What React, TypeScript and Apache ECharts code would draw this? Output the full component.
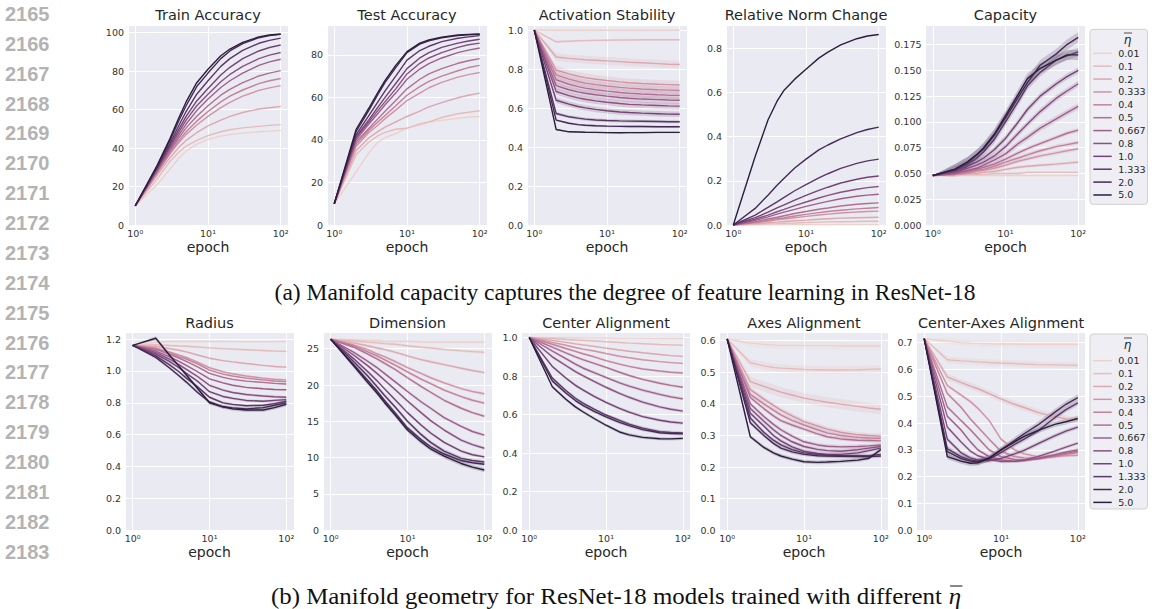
import React, { useEffect, useRef } from "react";
import * as echarts from "echarts";

// Sampled epochs (log-spaced) shared by every panel
const epochs = [1, 2, 3, 4, 5, 7, 10, 15, 20, 30, 50, 70, 100];

// η̄ levels, lightest to darkest
const etaLabels = ["0.01", "0.1", "0.2", "0.333", "0.4", "0.5", "0.667", "0.8", "1.0", "1.333", "2.0", "5.0"];

// Rows follow etaLabels order
const trainAccuracy = [
  [10, 21, 29, 35, 38.5, 42, 44.5, 46.2, 47, 47.8, 48.5, 48.8, 49.2],
  [10, 24, 33, 38, 41, 44, 46.5, 48.5, 49.5, 50.5, 51.3, 51.8, 52.2],
  [10, 26, 35, 40.5, 44, 48, 51.5, 54.5, 56.5, 58.5, 60.3, 61, 61.7],
  [10, 27, 37, 43, 47, 52, 56.5, 61, 63.8, 67, 70, 71.3, 72.5],
  [10, 27.5, 37.5, 44, 48.5, 54, 59, 64, 67, 70.2, 73.5, 75, 76.2],
  [10, 28, 38.5, 45.5, 50.5, 56.5, 62, 67.5, 70.5, 74, 77.5, 79, 80.3],
  [10, 28.5, 39.5, 47, 52.5, 59.5, 65.5, 71.5, 75, 79, 83, 84.8, 86.2],
  [10, 29, 40.5, 48.5, 54.5, 62, 68, 74.5, 78.3, 82.5, 86.5, 88.3, 89.7],
  [10, 29.5, 41.5, 50, 56.5, 64.5, 71, 78, 82, 86.5, 90.5, 92.3, 93.6],
  [10, 30, 42.5, 52, 59, 68, 75, 82.5, 86.5, 90.8, 94.5, 96, 97.2],
  [10, 30.5, 44, 54.5, 62, 72, 79, 86.5, 90.5, 94.3, 97.4, 98.5, 99.1],
  [10, 31, 45, 56, 64, 74, 81, 88, 91.5, 95, 97.8, 98.8, 99.3],
];

const testAccuracy = [
  [10, 25, 34, 39, 41, 43, 45.5, 47, 48.3, 49.2, 50.2, 50.7, 51],
  [10, 33, 39, 42, 43.5, 45, 45.5, 47.5, 48.5, 50.5, 52.3, 53, 53.7],
  [10, 35, 41, 44, 46, 48.5, 51, 53.5, 55.5, 57.5, 59.8, 61, 62],
  [10, 37, 43.5, 47, 50, 54, 58.5, 62, 64.5, 67, 69.5, 70.7, 71.7],
  [10, 38, 44.5, 48.5, 51.5, 56, 61, 65, 67.5, 70, 72.5, 74, 75],
  [10, 39, 45.5, 50, 53.5, 58.5, 64, 68.5, 71, 73.5, 76, 77.2, 78.2],
  [10, 40, 47.5, 52.5, 56.5, 62, 68.5, 73.3, 75.8, 78.5, 81, 82.2, 83.2],
  [10, 41, 48.5, 54, 58, 64, 71, 76, 78.5, 81, 83.5, 84.7, 85.5],
  [10, 41.5, 49.5, 55.5, 60, 66.5, 73.5, 78.5, 81, 83.5, 85.5, 86.5, 87.3],
  [10, 42.5, 51.5, 58, 63, 70, 77.5, 82, 84, 86.2, 87.8, 88.4, 89],
  [10, 44, 54, 61.5, 67, 74, 81, 85, 86.6, 88, 89, 89.4, 89.6],
  [10, 45, 55, 62.5, 68, 75, 81.5, 85.5, 87, 88.3, 89.3, 89.6, 89.8],
];

const activationStability = [
  [1, 0.999, 0.999, 0.999, 0.999, 0.999, 0.999, 0.999, 0.999, 0.999, 0.999, 0.999, 0.999],
  [1, 0.94, 0.943, 0.945, 0.946, 0.947, 0.948, 0.949, 0.949, 0.95, 0.95, 0.95, 0.95],
  [1, 0.862, 0.855, 0.851, 0.848, 0.845, 0.842, 0.838, 0.835, 0.832, 0.828, 0.825, 0.823],
  [1, 0.795, 0.775, 0.763, 0.756, 0.748, 0.741, 0.734, 0.73, 0.726, 0.722, 0.72, 0.718],
  [1, 0.77, 0.748, 0.736, 0.728, 0.72, 0.713, 0.706, 0.702, 0.698, 0.694, 0.692, 0.69],
  [1, 0.745, 0.722, 0.71, 0.702, 0.694, 0.687, 0.68, 0.676, 0.672, 0.668, 0.666, 0.665],
  [1, 0.715, 0.694, 0.683, 0.676, 0.668, 0.661, 0.654, 0.65, 0.646, 0.643, 0.641, 0.64],
  [1, 0.685, 0.664, 0.652, 0.645, 0.637, 0.63, 0.623, 0.619, 0.616, 0.613, 0.611, 0.61],
  [1, 0.64, 0.62, 0.608, 0.601, 0.593, 0.586, 0.58, 0.577, 0.574, 0.571, 0.569, 0.568],
  [1, 0.572, 0.555, 0.548, 0.543, 0.539, 0.536, 0.534, 0.533, 0.532, 0.531, 0.53, 0.53],
  [1, 0.538, 0.522, 0.515, 0.512, 0.509, 0.507, 0.506, 0.505, 0.505, 0.504, 0.504, 0.504],
  [1, 0.49, 0.478, 0.477, 0.476, 0.475, 0.474, 0.473, 0.474, 0.474, 0.475, 0.475, 0.475],
];

const relativeNormChange = [
  [0, 0.0003, 0.0005, 0.0007, 0.0008, 0.001, 0.0012, 0.0013, 0.0014, 0.0016, 0.0017, 0.0018, 0.0018],
  [0, 0.003, 0.005, 0.006, 0.008, 0.009, 0.011, 0.013, 0.014, 0.015, 0.016, 0.017, 0.017],
  [0, 0.006, 0.01, 0.013, 0.016, 0.019, 0.022, 0.026, 0.028, 0.031, 0.033, 0.034, 0.035],
  [0, 0.01, 0.017, 0.023, 0.027, 0.033, 0.039, 0.045, 0.049, 0.054, 0.059, 0.061, 0.063],
  [0, 0.012, 0.021, 0.028, 0.033, 0.041, 0.048, 0.056, 0.061, 0.067, 0.073, 0.076, 0.079],
  [0, 0.015, 0.027, 0.035, 0.042, 0.052, 0.061, 0.071, 0.077, 0.086, 0.094, 0.097, 0.1],
  [0, 0.021, 0.037, 0.049, 0.058, 0.071, 0.084, 0.098, 0.107, 0.119, 0.13, 0.135, 0.139],
  [0, 0.026, 0.045, 0.06, 0.071, 0.088, 0.104, 0.122, 0.134, 0.148, 0.162, 0.169, 0.174],
  [0, 0.033, 0.058, 0.077, 0.091, 0.113, 0.134, 0.157, 0.171, 0.19, 0.207, 0.216, 0.222],
  [0, 0.045, 0.08, 0.105, 0.125, 0.155, 0.183, 0.213, 0.232, 0.256, 0.279, 0.29, 0.298],
  [0, 0.075, 0.135, 0.18, 0.212, 0.258, 0.298, 0.34, 0.362, 0.39, 0.418, 0.432, 0.443],
  [0, 0.31, 0.475, 0.56, 0.61, 0.66, 0.705, 0.755, 0.782, 0.815, 0.843, 0.855, 0.862],
];

const capacity = [
  [0.048, 0.048, 0.048, 0.048, 0.048, 0.048, 0.048, 0.048, 0.048, 0.048, 0.048, 0.048, 0.048],
  [0.048, 0.048, 0.049, 0.049, 0.049, 0.05, 0.05, 0.05, 0.051, 0.051, 0.051, 0.051, 0.051],
  [0.048, 0.049, 0.05, 0.05, 0.051, 0.052, 0.054, 0.056, 0.057, 0.058, 0.059, 0.06, 0.061],
  [0.048, 0.049, 0.05, 0.052, 0.053, 0.055, 0.058, 0.062, 0.064, 0.067, 0.07, 0.072, 0.074],
  [0.048, 0.049, 0.051, 0.053, 0.054, 0.057, 0.061, 0.065, 0.068, 0.072, 0.076, 0.078, 0.08],
  [0.048, 0.05, 0.052, 0.054, 0.056, 0.059, 0.064, 0.07, 0.074, 0.079, 0.085, 0.089, 0.092],
  [0.048, 0.05, 0.053, 0.055, 0.058, 0.063, 0.069, 0.079, 0.085, 0.094, 0.103, 0.109, 0.115],
  [0.048, 0.051, 0.055, 0.058, 0.061, 0.067, 0.076, 0.089, 0.098, 0.11, 0.123, 0.13, 0.137],
  [0.048, 0.052, 0.057, 0.061, 0.065, 0.073, 0.084, 0.1, 0.112, 0.125, 0.137, 0.144, 0.15],
  [0.048, 0.053, 0.059, 0.065, 0.071, 0.083, 0.1, 0.12, 0.135, 0.148, 0.16, 0.164, 0.168],
  [0.048, 0.054, 0.061, 0.068, 0.074, 0.087, 0.104, 0.124, 0.138, 0.155, 0.166, 0.175, 0.182],
  [0.048, 0.054, 0.061, 0.068, 0.075, 0.088, 0.106, 0.127, 0.142, 0.152, 0.16, 0.165, 0.165],
];

const radius = [
  [1.16, 1.18, 1.185, 1.185, 1.185, 1.185, 1.185, 1.185, 1.184, 1.183, 1.183, 1.184, 1.185],
  [1.16, 1.165, 1.16, 1.157, 1.155, 1.15, 1.145, 1.14, 1.137, 1.133, 1.128, 1.125, 1.123],
  [1.16, 1.155, 1.14, 1.13, 1.12, 1.1, 1.08, 1.065, 1.057, 1.047, 1.035, 1.028, 1.024],
  [1.16, 1.145, 1.12, 1.1, 1.085, 1.055, 1.02, 0.995, 0.982, 0.968, 0.955, 0.948, 0.944],
  [1.16, 1.14, 1.115, 1.09, 1.075, 1.045, 1.005, 0.98, 0.968, 0.955, 0.944, 0.937, 0.933],
  [1.16, 1.135, 1.105, 1.08, 1.06, 1.025, 0.985, 0.96, 0.947, 0.936, 0.928, 0.922, 0.918],
  [1.16, 1.125, 1.09, 1.06, 1.035, 0.995, 0.95, 0.925, 0.91, 0.897, 0.888, 0.884, 0.882],
  [1.16, 1.115, 1.075, 1.04, 1.01, 0.965, 0.91, 0.88, 0.865, 0.852, 0.843, 0.838, 0.835],
  [1.16, 1.105, 1.06, 1.02, 0.985, 0.935, 0.87, 0.84, 0.828, 0.815, 0.81, 0.815, 0.82],
  [1.16, 1.095, 1.04, 0.995, 0.955, 0.9, 0.835, 0.8, 0.79, 0.782, 0.785, 0.795, 0.81],
  [1.16, 1.085, 1.02, 0.97, 0.93, 0.865, 0.805, 0.775, 0.768, 0.762, 0.77, 0.785, 0.8],
  [1.16, 1.205, 1.1, 1.03, 0.975, 0.89, 0.8, 0.775, 0.762, 0.755, 0.755, 0.77, 0.79],
];

const dimension = [
  [26.3, 26.2, 26.1, 26.1, 26.0, 26.0, 26.0, 25.9, 25.9, 25.9, 25.9, 25.9, 25.9],
  [26.3, 26.1, 25.9, 25.8, 25.7, 25.6, 25.4, 25.2, 25.1, 24.9, 24.7, 24.6, 24.5],
  [26.3, 25.8, 25.4, 25.1, 24.9, 24.5, 24.0, 23.5, 23.2, 22.8, 22.3, 22.0, 21.7],
  [26.3, 25.5, 24.9, 24.3, 23.9, 23.2, 22.4, 21.6, 21.0, 20.3, 19.5, 19.1, 18.8],
  [26.3, 25.4, 24.6, 24.0, 23.5, 22.7, 21.8, 20.8, 20.2, 19.3, 18.4, 17.9, 17.5],
  [26.3, 25.2, 24.3, 23.6, 23.0, 22.1, 21.0, 19.8, 19.0, 17.9, 16.8, 16.2, 15.7],
  [26.3, 24.5, 23.3, 22.4, 21.6, 20.4, 19.1, 17.7, 16.8, 15.5, 14.3, 13.6, 13.1],
  [26.3, 24.1, 22.7, 21.6, 20.7, 19.3, 17.8, 16.2, 15.1, 13.8, 12.4, 11.8, 11.3],
  [26.3, 23.6, 21.9, 20.6, 19.5, 17.9, 16.2, 14.5, 13.4, 12.1, 10.9, 10.4, 10.1],
  [26.3, 23.2, 21.3, 19.8, 18.6, 16.9, 15.0, 13.2, 12.1, 10.9, 9.9, 9.6, 9.4],
  [26.3, 22.8, 20.7, 19.2, 17.9, 16.1, 14.1, 12.5, 11.5, 10.5, 9.6, 9.3, 9.1],
  [26.3, 22.6, 20.4, 18.9, 17.6, 15.8, 13.8, 12.2, 11.2, 10.2, 9.2, 8.7, 8.3],
];

const centerAlignment = [
  [1, 0.999, 0.999, 0.999, 0.998, 0.998, 0.998, 0.997, 0.997, 0.997, 0.996, 0.996, 0.996],
  [1, 0.995, 0.99, 0.987, 0.985, 0.982, 0.978, 0.974, 0.971, 0.968, 0.964, 0.962, 0.96],
  [1, 0.985, 0.975, 0.967, 0.962, 0.954, 0.945, 0.935, 0.929, 0.921, 0.912, 0.906, 0.902],
  [1, 0.975, 0.96, 0.948, 0.94, 0.93, 0.917, 0.903, 0.895, 0.885, 0.875, 0.87, 0.866],
  [1, 0.965, 0.943, 0.928, 0.916, 0.9, 0.88, 0.862, 0.85, 0.837, 0.826, 0.82, 0.816],
  [1, 0.95, 0.92, 0.9, 0.885, 0.866, 0.845, 0.82, 0.803, 0.783, 0.763, 0.752, 0.742],
  [1, 0.93, 0.89, 0.862, 0.842, 0.818, 0.793, 0.765, 0.748, 0.727, 0.705, 0.692, 0.682],
  [1, 0.9, 0.855, 0.823, 0.802, 0.772, 0.742, 0.71, 0.69, 0.665, 0.64, 0.628, 0.618],
  [1, 0.85, 0.79, 0.752, 0.728, 0.695, 0.664, 0.632, 0.613, 0.59, 0.571, 0.562, 0.556],
  [1, 0.79, 0.725, 0.685, 0.66, 0.628, 0.598, 0.57, 0.551, 0.53, 0.512, 0.508, 0.505],
  [1, 0.775, 0.712, 0.673, 0.648, 0.617, 0.588, 0.56, 0.543, 0.522, 0.506, 0.502, 0.5],
  [1, 0.745, 0.68, 0.64, 0.615, 0.58, 0.545, 0.51, 0.495, 0.482, 0.475, 0.474, 0.477],
];

const axesAlignment = [
  [0.605, 0.592, 0.588, 0.586, 0.585, 0.585, 0.584, 0.584, 0.584, 0.583, 0.583, 0.583, 0.583],
  [0.605, 0.53, 0.52, 0.515, 0.513, 0.511, 0.509, 0.508, 0.507, 0.507, 0.508, 0.509, 0.51],
  [0.605, 0.47, 0.455, 0.445, 0.437, 0.428, 0.418, 0.41, 0.405, 0.399, 0.392, 0.387, 0.383],
  [0.605, 0.445, 0.415, 0.395, 0.38, 0.362, 0.344, 0.33, 0.32, 0.31, 0.302, 0.3, 0.298],
  [0.605, 0.43, 0.4, 0.38, 0.365, 0.348, 0.333, 0.318, 0.308, 0.3, 0.294, 0.292, 0.291],
  [0.605, 0.42, 0.385, 0.362, 0.347, 0.333, 0.32, 0.305, 0.296, 0.289, 0.285, 0.284, 0.283],
  [0.605, 0.4, 0.36, 0.335, 0.318, 0.298, 0.28, 0.27, 0.266, 0.264, 0.265, 0.267, 0.27],
  [0.605, 0.385, 0.345, 0.318, 0.3, 0.28, 0.265, 0.256, 0.252, 0.25, 0.255, 0.26, 0.265],
  [0.605, 0.37, 0.33, 0.3, 0.283, 0.264, 0.25, 0.243, 0.24, 0.24, 0.245, 0.252, 0.26],
  [0.605, 0.355, 0.31, 0.285, 0.27, 0.255, 0.245, 0.24, 0.238, 0.236, 0.236, 0.236, 0.24],
  [0.605, 0.34, 0.3, 0.275, 0.26, 0.248, 0.24, 0.236, 0.235, 0.234, 0.233, 0.233, 0.235],
  [0.605, 0.296, 0.262, 0.245, 0.235, 0.225, 0.217, 0.215, 0.216, 0.218, 0.222, 0.228, 0.255],
];

const centerAxesAlignment = [
  [0.715, 0.706, 0.7, 0.698, 0.697, 0.696, 0.695, 0.695, 0.694, 0.694, 0.694, 0.694, 0.694],
  [0.715, 0.636, 0.632, 0.63, 0.628, 0.626, 0.624, 0.622, 0.62, 0.618, 0.617, 0.616, 0.615],
  [0.715, 0.572, 0.552, 0.538, 0.528, 0.51, 0.49, 0.47, 0.458, 0.44, 0.424, 0.416, 0.41],
  [0.715, 0.54, 0.505, 0.48, 0.455, 0.41, 0.34, 0.3, 0.285, 0.275, 0.275, 0.278, 0.28],
  [0.715, 0.51, 0.46, 0.415, 0.385, 0.34, 0.295, 0.275, 0.27, 0.268, 0.275, 0.283, 0.29],
  [0.715, 0.46, 0.41, 0.375, 0.345, 0.3, 0.275, 0.264, 0.262, 0.266, 0.278, 0.287, 0.295],
  [0.715, 0.425, 0.375, 0.33, 0.3, 0.275, 0.262, 0.258, 0.26, 0.268, 0.282, 0.292, 0.3],
  [0.715, 0.385, 0.33, 0.295, 0.278, 0.265, 0.256, 0.257, 0.262, 0.275, 0.295, 0.31, 0.325],
  [0.715, 0.34, 0.29, 0.27, 0.262, 0.26, 0.268, 0.285, 0.298, 0.322, 0.352, 0.37, 0.385],
  [0.715, 0.305, 0.275, 0.262, 0.258, 0.265, 0.29, 0.32, 0.34, 0.37, 0.42, 0.45, 0.475],
  [0.715, 0.293, 0.268, 0.258, 0.256, 0.27, 0.3, 0.335, 0.36, 0.392, 0.44, 0.47, 0.495],
  [0.715, 0.275, 0.258, 0.25, 0.252, 0.268, 0.3, 0.33, 0.35, 0.372, 0.395, 0.405, 0.417],
];

// Half-widths of the shaded confidence bands, one per η̄ level
const activationBand = [0.002, 0.006, 0.02, 0.022, 0.02, 0.02, 0.018, 0.016, 0.014, 0.008, 0.005, 0.004];
const capacityBand = [0.001, 0.001, 0.0015, 0.002, 0.002, 0.002, 0.003, 0.003, 0.003, 0.004, 0.005, 0.005];
const radiusBand = [0.006, 0.006, 0.006, 0.006, 0.006, 0.006, 0.006, 0.008, 0.008, 0.008, 0.01, 0.012];
const dimensionBand = [0.2, 0.2, 0.2, 0.2, 0.2, 0.2, 0.2, 0.2, 0.2, 0.25, 0.25, 0.3];
const centerBand = [0.002, 0.003, 0.004, 0.005, 0.006, 0.007, 0.008, 0.008, 0.008, 0.008, 0.008, 0.008];
const axesBand = [0.012, 0.012, 0.016, 0.008, 0.007, 0.006, 0.006, 0.006, 0.006, 0.006, 0.006, 0.006];
const centerAxesBand = [0.012, 0.012, 0.012, 0.006, 0.006, 0.006, 0.006, 0.006, 0.008, 0.01, 0.012, 0.01];

const lineNumbers = ["2165", "2166", "2167", "2168", "2169", "2170", "2171", "2172", "2173", "2174", "2175", "2176", "2177", "2178", "2179", "2180", "2181", "2182", "2183"];

const captionA = "(a) Manifold capacity captures the degree of feature learning in ResNet-18";
const captionB = "(b) Manifold geometry for ResNet-18 models trained with different ";

// seaborn-style cubehelix (start 0, rot .4, hue .8), light → dark
function cubehelix(x: number): string {
  const a = (0.8 * x * (1 - x)) / 2;
  const phi = 2 * Math.PI * (0.4 * x);
  const c = Math.cos(phi);
  const s = Math.sin(phi);
  const ch = (v: number) => Math.round(Math.min(1, Math.max(0, v)) * 255);
  const r = ch(x + a * (-0.14861 * c + 1.78277 * s));
  const g = ch(x + a * (-0.29227 * c - 0.90649 * s));
  const b = ch(x + a * (1.97294 * c));
  return `rgb(${r},${g},${b})`;
}
const palette = etaLabels.map((_, i) => cubehelix(0.85 - (0.7 * i) / 11));

const FONT = "DejaVu Sans";
const TEXT = "#262626";
const SUP = ["⁰", "¹", "²"];
const CAPTION_FONT = `23.5px "Liberation Serif"`;

type Panel = {
  title: string;
  data: number[][];
  band: number[] | null;
  yMax: number;
  interval: number;
  dec: number;
  left: number;
  top: number;
  width: number;
  height: number;
};

const TOP_LEFTS = [128, 327, 527, 726, 925.5];
const BOT_LEFTS = [125, 323, 521.5, 719.5, 916.5];

const panels: Panel[] = [
  { title: "Train Accuracy", data: trainAccuracy, band: null, yMax: 104, interval: 20, dec: 0, left: TOP_LEFTS[0], top: 25, width: 160, height: 200 },
  { title: "Test Accuracy", data: testAccuracy, band: null, yMax: 94, interval: 20, dec: 0, left: TOP_LEFTS[1], top: 25, width: 160, height: 200 },
  { title: "Activation Stability", data: activationStability, band: activationBand, yMax: 1.026, interval: 0.2, dec: 1, left: TOP_LEFTS[2], top: 25, width: 160, height: 200 },
  { title: "Relative Norm Change", data: relativeNormChange, band: null, yMax: 0.905, interval: 0.2, dec: 1, left: TOP_LEFTS[3], top: 25, width: 160, height: 200 },
  { title: "Capacity", data: capacity, band: capacityBand, yMax: 0.194, interval: 0.025, dec: 3, left: TOP_LEFTS[4], top: 25, width: 160, height: 200 },
  { title: "Radius", data: radius, band: radiusBand, yMax: 1.24, interval: 0.2, dec: 1, left: BOT_LEFTS[0], top: 332.7, width: 169, height: 197.6 },
  { title: "Dimension", data: dimension, band: dimensionBand, yMax: 27.2, interval: 5, dec: 0, left: BOT_LEFTS[1], top: 332.7, width: 169, height: 197.6 },
  { title: "Center Alignment", data: centerAlignment, band: centerBand, yMax: 1.025, interval: 0.2, dec: 1, left: BOT_LEFTS[2], top: 332.7, width: 169, height: 197.6 },
  { title: "Axes Alignment", data: axesAlignment, band: axesBand, yMax: 0.625, interval: 0.1, dec: 1, left: BOT_LEFTS[3], top: 332.7, width: 169, height: 197.6 },
  { title: "Center-Axes Alignment", data: centerAxesAlignment, band: centerAxesBand, yMax: 0.737, interval: 0.1, dec: 1, left: BOT_LEFTS[4], top: 332.7, width: 169, height: 197.6 },
];

function measure(text: string, font: string): number {
  const ctx = document.createElement("canvas").getContext("2d");
  if (!ctx) return text.length * 10;
  ctx.font = font;
  return ctx.measureText(text).width;
}

function buildLegend(boxTop: number, titleY: number, firstY: number): any[] {
  const els: any[] = [];
  els.push({
    type: "rect",
    shape: { x: 1090, y: boxTop, width: 57.5, height: 175, r: 3 },
    style: { fill: "#eeeef4", stroke: "#d0d0d0", lineWidth: 1 },
  });
  els.push({
    type: "text",
    x: 1127.5,
    y: titleY,
    style: { text: "η", font: `italic 12px "${FONT}"`, fill: TEXT, align: "center", verticalAlign: "middle", textAlign: "center", textVerticalAlign: "middle" },
  });
  els.push({
    type: "line",
    shape: { x1: 1124, y1: titleY - 7, x2: 1132, y2: titleY - 7 },
    style: { stroke: TEXT, lineWidth: 0.8 },
  });
  etaLabels.forEach((lab, i) => {
    const y = firstY + i * 12.88;
    els.push({
      type: "line",
      shape: { x1: 1093.3, y1: y, x2: 1111.7, y2: y },
      style: { stroke: palette[i], lineWidth: 1.5 },
    });
    els.push({
      type: "text",
      x: 1118.3,
      y,
      style: { text: lab, font: `9.5px "${FONT}"`, fill: TEXT, verticalAlign: "middle", textVerticalAlign: "middle" },
    });
  });
  return els;
}

export default function App() {
  const ref = useRef<HTMLDivElement>(null);

  useEffect(() => {
    if (!ref.current) return;
    const chart = echarts.init(ref.current, undefined, { renderer: "svg" });

    const grid: any[] = [];
    const xAxis: any[] = [];
    const yAxis: any[] = [];
    const series: any[] = [];
    const graphic: any[] = [];

    panels.forEach((p, pi) => {
      grid.push({
        left: p.left,
        top: p.top,
        width: p.width,
        height: p.height,
        show: true,
        backgroundColor: "#EAEAF2",
        borderWidth: 0,
        containLabel: false,
      });
      xAxis.push({
        type: "log",
        logBase: 10,
        gridIndex: pi,
        min: Math.pow(10, -0.1),
        max: Math.pow(10, 2.1),
        name: "epoch",
        nameLocation: "middle",
        nameGap: 15,
        nameTextStyle: { fontFamily: FONT, fontSize: 14, color: TEXT },
        axisLine: { show: false },
        axisTick: { show: false },
        minorTick: { show: false },
        splitLine: { show: true, lineStyle: { color: "#ffffff", width: 1 } },
        axisLabel: {
          margin: 3,
          fontFamily: FONT,
          fontSize: 9.5,
          color: "#333",
          showMinLabel: false,
          showMaxLabel: false,
          formatter: (v: number) => {
            const l = Math.log10(v);
            const e = Math.round(l);
            if (Math.abs(l - e) > 1e-6 || e < 0 || e > 2) return "";
            return "10" + SUP[e];
          },
        },
      });
      yAxis.push({
        type: "value",
        gridIndex: pi,
        min: 0,
        max: p.yMax,
        interval: p.interval,
        axisLine: { show: false },
        axisTick: { show: false },
        splitLine: { show: true, lineStyle: { color: "#ffffff", width: 1 } },
        axisLabel: {
          margin: 4,
          fontFamily: FONT,
          fontSize: 9.5,
          color: "#333",
          showMaxLabel: false,
          formatter: (v: number) => v.toFixed(p.dec),
        },
      });

      // shaded confidence bands, drawn behind the lines
      if (p.band) {
        p.data.forEach((vals, si) => {
          const w = p.band![si];
          series.push({
            type: "custom",
            xAxisIndex: pi,
            yAxisIndex: pi,
            silent: true,
            clip: true,
            z: 1,
            data: [[epochs[0], vals[0]]],
            renderItem: (_params: any, api: any) => {
              const upper = vals.map((v, k) => api.coord([epochs[k], k === 0 ? v : v + w]));
              const lower = vals.map((v, k) => api.coord([epochs[k], k === 0 ? v : v - w])).reverse();
              return {
                type: "polygon",
                shape: { points: upper.concat(lower) },
                style: { fill: palette[si], opacity: 0.2 },
              };
            },
          });
        });
      }
      p.data.forEach((vals, si) => {
        series.push({
          type: "line",
          name: etaLabels[si],
          xAxisIndex: pi,
          yAxisIndex: pi,
          symbol: "none",
          silent: true,
          z: 2,
          itemStyle: { color: palette[si] },
          lineStyle: { color: palette[si], width: 1.4 },
          data: vals.map((v, k) => [epochs[k], v]),
        });
      });

      graphic.push({
        type: "text",
        x: p.left + p.width / 2,
        y: pi < 5 ? 15 : 322.7,
        style: {
          text: p.title,
          font: `14.5px "${FONT}"`,
          fill: TEXT,
          align: "center",
          verticalAlign: "middle",
          textAlign: "center",
          textVerticalAlign: "middle",
        },
      });
    });

    // page line numbers
    lineNumbers.forEach((n, i) => {
      graphic.push({
        type: "text",
        x: 5,
        y: 14 + i * 29.87,
        style: {
          text: n,
          font: `bold 20px "Liberation Sans"`,
          fill: "#b3b3b3",
          verticalAlign: "middle",
          textVerticalAlign: "middle",
        },
      });
    });

    // sub-figure captions
    graphic.push({
      type: "text",
      x: 625,
      y: 292,
      style: {
        text: captionA,
        font: CAPTION_FONT,
        fill: "#111",
        align: "center",
        verticalAlign: "middle",
        textAlign: "center",
        textVerticalAlign: "middle",
      },
    });
    const etaFont = `italic 23.5px "Liberation Serif"`;
    const wB = measure(captionB, CAPTION_FONT);
    const wEta = measure("η", etaFont);
    const startB = 271;
    const stretch = 690 / (wB + wEta);
    graphic.push({
      type: "group",
      x: startB,
      y: 596,
      scaleX: stretch,
      children: [
        {
          type: "text",
          x: 0,
          y: 0,
          style: {
            text: captionB,
            font: CAPTION_FONT,
            lineHeight: 22,
            fill: "#111",
            align: "left",
            verticalAlign: "middle",
            textAlign: "left",
            textVerticalAlign: "middle",
          },
        },
        {
          type: "text",
          x: wB,
          y: 0,
          style: {
            text: "η",
            font: etaFont,
            lineHeight: 22,
            fill: "#111",
            align: "left",
            verticalAlign: "middle",
            textAlign: "left",
            textVerticalAlign: "middle",
          },
        },
        {
          type: "line",
          shape: { x1: wB + 1.5, y1: -10, x2: wB + wEta + 1.5, y2: -10 },
          style: { stroke: "#111", lineWidth: 1 },
        },
      ],
    });

    graphic.push(...buildLegend(29.3, 40, 53.3));
    graphic.push(...buildLegend(334, 345, 360.7));

    chart.setOption({
      animation: false,
      backgroundColor: "#ffffff",
      grid,
      xAxis,
      yAxis,
      series,
      graphic,
    });

    return () => chart.dispose();
  }, []);

  return <div ref={ref} style={{ position: "fixed", left: 0, top: 0, width: 1155, height: 609 }} />;
}
